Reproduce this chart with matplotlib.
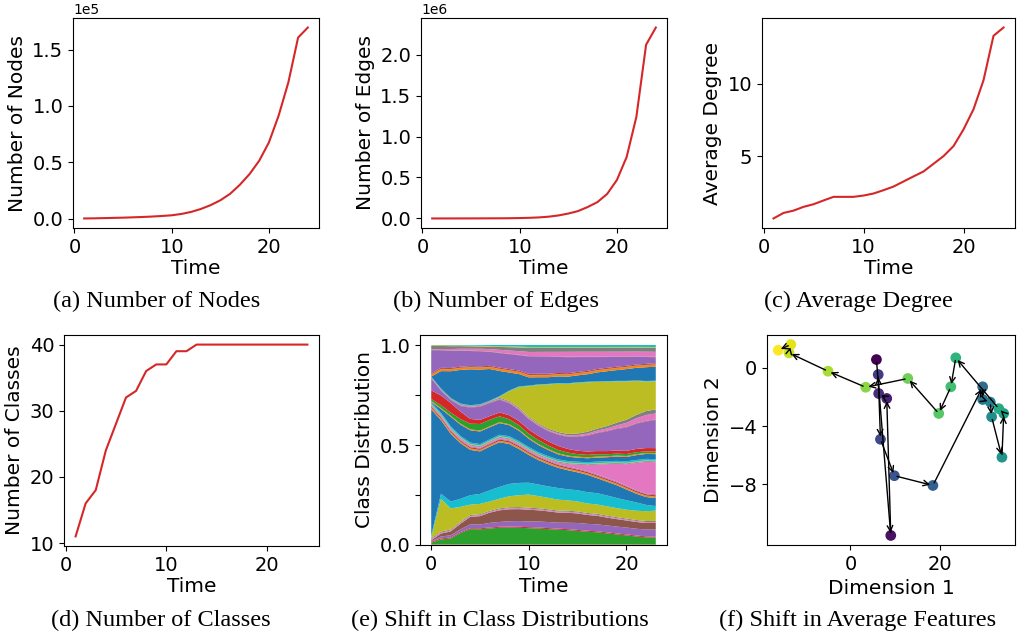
import numpy as np
import matplotlib
matplotlib.use('Agg')
import matplotlib.pyplot as plt

# ---- data ----
time = np.arange(1, 25)
nodes = [0.002, 0.003, 0.005, 0.007, 0.009, 0.012, 0.015, 0.019, 0.024, 0.03,
         0.042, 0.06, 0.086, 0.12, 0.163, 0.22, 0.30, 0.395, 0.514, 0.677,
         0.915, 1.21, 1.607, 1.696]          # x1e5
edges = [0.0001, 0.0002, 0.0003, 0.0005, 0.0007, 0.001, 0.0015, 0.002, 0.003, 0.005,
         0.008, 0.013, 0.022, 0.037, 0.06, 0.09, 0.14, 0.20, 0.30, 0.47,
         0.75, 1.24, 2.12, 2.33]              # x1e6
degree = [0.7, 1.08, 1.24, 1.5, 1.68, 1.94, 2.19, 2.19, 2.19, 2.28,
          2.42, 2.65, 2.9, 3.25, 3.6, 3.94, 4.47, 5.0, 5.69, 6.84,
          8.23, 10.23, 13.3, 13.87]
classes = [11, 16, 18, 24, 28, 32, 33, 36, 37, 37, 39, 39, 40, 40, 40, 40,
           40, 40, 40, 40, 40, 40, 40, 40]

# class shares (e), one list per visible class, t = 0..23
green_low = [.008, .025, .03, .06, .08, .08, .085, .085, .083, .08, .078, .077, .075, .072, .07, .067, .063, .06, .055, .05, .045, .04, .035, .033]
purple_low = [.003, .01, .012, .015, .02, .02, .025, .025, .027, .028, .028, .03, .03, .03, .032, .035, .035, .035, .035, .035, .035, .035, .035, .035]
brown_low = [.005, .015, .02, .03, .04, .045, .055, .06, .06, .058, .057, .055, .053, .05, .05, .048, .045, .043, .04, .038, .036, .035, .033, .033]
olive_low = [.004, .17, .11, .08, .055, .055, .05, .05, .055, .058, .064, .06, .057, .054, .052, .05, .048, .047, .047, .046, .045, .048, .05, .051]
cyan_low = [.01, .026, .036, .043, .05, .053, .06, .061, .062, .06, .058, .057, .057, .058, .055, .057, .057, .057, .055, .052, .048, .043, .032, .023]
blue_main = [.655, .38, .354, .297, .24, .227, .235, .23, .2, .165, .135, .12, .11, .1, .095, .09, .088, .075, .07, .065, .055, .045, .04, .04]
pink_mid = [.003, .004, .005, .005, .005, .005, .005, .005, .005, .005, .005, .005, .006, .008, .012, .02, .03, .05, .07, .09, .11, .14, .16, .16]
blue_mid = [.002, .02, .05, .06, .065, .067, .065, .06, .055, .05, .04, .035, .03, .025, .022, .02, .02, .02, .02, .022, .022, .025, .025, .025]
green_mid = [.01, .015, .017, .025, .03, .035, .035, .03, .025, .022, .02, .02, .018, .017, .015, .013, .012, .012, .01, .01, .01, .01, .008, .008]
red_mid = [.045, .05, .05, .04, .025, .022, .02, .02, .02, .02, .02, .02, .02, .02, .018, .017, .017, .016, .016, .016, .016, .017, .017, .017]
purple_mid = [.06, .025, .015, .03, .06, .07, .07, .065, .06, .055, .05, .05, .05, .055, .06, .07, .08, .09, .1, .11, .12, .13, .135, .14]
pink_up = [.002, .002, .002, .003, .003, .003, .003, .003, .003, .004, .004, .004, .004, .005, .005, .006, .008, .01, .012, .015, .02, .025, .03, .03]
gray_up = [.003, .003, .003, .004, .004, .004, .004, .005, .005, .005, .005, .005, .006, .006, .007, .008, .009, .01, .012, .014, .016, .018, .02, .02]
olive_big = [0, 0, 0, 0, 0, 0, 0, .005, .05, .1, .15, .19, .22, .24, .25, .255, .25, .235, .225, .21, .195, .175, .15, .14]
blue_up = [0, .09, .14, .18, .19, .185, .17, .13, .09, .06, .04, .035, .033, .033, .033, .035, .038, .045, .05, .055, .06, .065, .07, .07]
purple_top = [.12, .09, .09, .085, .08, .08, .075, .075, .075, .075, .085, .085, .085, .08, .08, .075, .07, .06, .055, .05, .045, .04, .035, .03]
pink_top = [.002, .005, .007, .009, .01, .012, .013, .015, .016, .018, .02, .021, .022, .023, .025, .025, .025, .025, .025, .025, .025, .025, .025, .025]
gray_top = [.018, .016, .015, .014, .013, .012, .013, .015, .017, .018, .02, .02, .02, .02, .02, .02, .02, .02, .02, .02, .02, .02, .02, .02]
cyan_top = [.001, .001, .002, .002, .003, .004, .005, .006, .007, .008, .01, .01, .01, .01, .01, .01, .01, .01, .01, .01, .01, .01, .01, .01]
# classes that stay a thin sliver the whole time
sliver = {0: .002, 1: .002, 3: .005, 6: .005, 7: .005, 11: .006, 12: .002, 13: .006,
          14: .003, 15: .002, 17: .004, 18: .003, 19: .008, 21: .005, 25: .003,
          29: .003, 31: .01, 32: .002, 33: .005, 35: .002, 38: .004}

# average feature trajectory (f)
dim1 = [5.8, 9.0, 8.1, 6.3, 6.2, 6.7, 9.8, 18.4, 29.5, 29.5, 31.2, 31.5,
        33.8, 34.2, 33.1, 23.5, 22.4, 19.7, 12.8, 3.4, -5.0, -13.7, -13.3, -16.1]
dim2 = [0.57, -11.5, -2.1, -1.76, -0.46, -4.9, -7.4, -8.07, -1.3, -2.17, -2.35, -3.36,
        -6.13, -3.13, -2.8, 0.69, -1.3, -3.13, -0.73, -1.33, -0.23, 1.03, 1.6, 1.21]

named = {2: green_low, 4: purple_low, 5: brown_low, 8: olive_low, 9: cyan_low,
         10: blue_main, 16: pink_mid, 20: blue_mid, 22: green_mid, 23: red_mid,
         24: purple_mid, 26: pink_up, 27: gray_up, 28: olive_big, 30: blue_up,
         34: purple_top, 36: pink_top, 37: gray_top, 39: cyan_top}
T = len(green_low)
shares = np.array([named[k] if k in named else [sliver[k]] * T for k in range(40)])
shares = shares / shares.sum(axis=0)

W, H = 1018, 638
fig = plt.figure(figsize=(W / 100, H / 100), dpi=100)

def add_ax(l, t, r, b):
    return fig.add_axes([l / W, 1 - b / H, (r - l) / W, (b - t) / H])

red = '#d62728'
fs = 14
lfs = 14.5

axa = add_ax(73, 18, 319, 228)
axb = add_ax(421, 18, 667, 228)
axc = add_ax(762, 18, 1015, 228)
axd = add_ax(64, 335, 319, 546)
axe = add_ax(420, 335, 667, 545)
axf = add_ax(767, 335, 1015, 545)

axa.plot(time, np.array(nodes) * 1e5, color=red, lw=1.5)
axa.set_ylabel('Number of Nodes', fontsize=lfs)
axa.set_yticks([0, 0.5e5, 1e5, 1.5e5])
axa.ticklabel_format(axis='y', style='sci', scilimits=(0, 0))
axb.plot(time, np.array(edges) * 1e6, color=red, lw=1.5)
axb.set_ylabel('Number of Edges', fontsize=lfs)
axb.set_yticks([0, 0.5e6, 1e6, 1.5e6, 2e6])
axb.ticklabel_format(axis='y', style='sci', scilimits=(0, 0))
axc.plot(time, degree, color=red, lw=1.5)
axc.set_ylabel('Average Degree', fontsize=lfs)
axc.set_yticks([5, 10])
axd.plot(time, classes, color=red, lw=1.5)
axd.set_ylabel('Number of Classes', fontsize=lfs)

tab = plt.get_cmap('tab10').colors
axe.stackplot(np.arange(T), shares, colors=[tab[k % 10] for k in range(40)])
axe.set_ylabel('Class Distribution', fontsize=lfs)
axe.set_yticks([0, 0.25, 0.5, 0.75, 1.0])
axe.set_yticklabels(['0.0', '', '0.5', '', '1.0'])

axf.scatter(dim1, dim2, c=np.arange(len(dim1)), cmap='viridis', s=45)
for i in range(len(dim1) - 1):
    axf.annotate('', xy=(dim1[i + 1], dim2[i + 1]), xytext=(dim1[i], dim2[i]),
                 arrowprops=dict(arrowstyle='->', color='black', lw=1))
axf.set_xlabel('Dimension 1', fontsize=lfs)
axf.set_ylabel('Dimension 2', fontsize=lfs)
axf.set_yticks([0, -4, -8])

for ax in [axa, axb, axc, axd, axe]:
    ax.set_xlabel('Time', fontsize=lfs, labelpad=2)
for ax in [axa, axb, axc, axd, axe, axf]:
    ax.tick_params(labelsize=fs)

caps = [(157, 301, '(a) Number of Nodes'), (496, 301, '(b) Number of Edges'),
        (858, 301, '(c) Average Degree'), (161, 620, '(d) Number of Classes'),
        (500, 620, '(e) Shift in Class Distributions'), (858, 620, '(f) Shift in Average Features')]
for x, y, s in caps:
    fig.text(x / W, 1 - y / H, s, ha='center', va='center', fontsize=17.5,
             family='Liberation Serif')

fig.savefig('out.png', dpi=100)
